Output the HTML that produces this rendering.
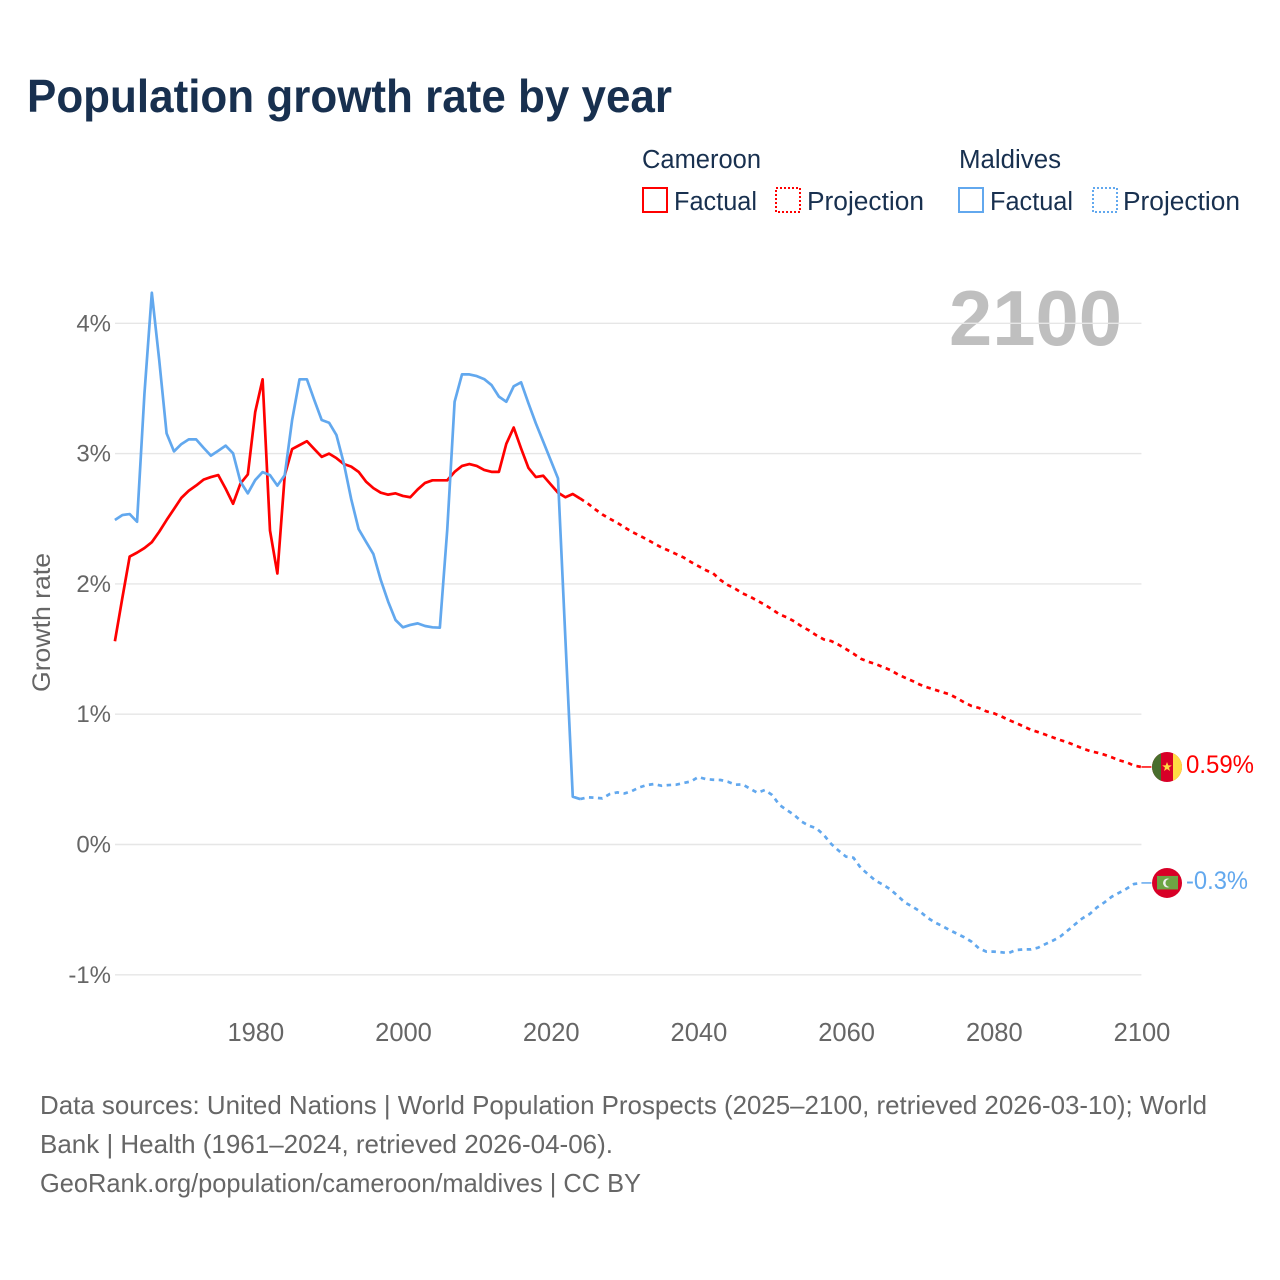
<!DOCTYPE html>
<html lang="en">
<head>
<meta charset="utf-8">
<title>Population growth rate by year</title>
<style>
html,body{margin:0;padding:0;background:#fff}
svg{display:block;font-family:"Liberation Sans",sans-serif}
</style>
</head>
<body>
<svg id="chart" width="1280" height="1280" viewBox="0 0 1280 1280" xmlns="http://www.w3.org/2000/svg">
  <rect width="1280" height="1280" fill="#fff"/>
  <text x="27" y="112" font-size="46" font-weight="700" fill="#18304f" textLength="645" lengthAdjust="spacingAndGlyphs">Population growth rate by year</text>

  <g font-size="25.5" fill="#18304f">
    <text x="642" y="168" textLength="119" lengthAdjust="spacingAndGlyphs">Cameroon</text>
    <text x="959" y="168" textLength="102" lengthAdjust="spacingAndGlyphs">Maldives</text>
    <rect x="643" y="188" width="24" height="24" fill="none" stroke="#ff0000" stroke-width="2"/>
    <text x="674" y="210" textLength="83" lengthAdjust="spacingAndGlyphs">Factual</text>
    <rect x="776" y="188" width="24" height="24" fill="none" stroke="#ff0000" stroke-width="2" stroke-dasharray="2 2"/>
    <text x="807" y="210" textLength="117" lengthAdjust="spacingAndGlyphs">Projection</text>
    <rect x="959" y="188" width="24" height="24" fill="none" stroke="#62a8ee" stroke-width="2"/>
    <text x="990" y="210" textLength="83" lengthAdjust="spacingAndGlyphs">Factual</text>
    <rect x="1093" y="188" width="24" height="24" fill="none" stroke="#62a8ee" stroke-width="2" stroke-dasharray="2 2"/>
    <text x="1123" y="210" textLength="117" lengthAdjust="spacingAndGlyphs">Projection</text>
  </g>

  <text x="949" y="345" font-size="78" font-weight="700" fill="#bfbfbf" textLength="173" lengthAdjust="spacingAndGlyphs">2100</text>

  <g id="grid"></g>
  <g id="yticks" font-size="24" fill="#666" text-anchor="end"></g>
  <g id="xticks" font-size="25.5" fill="#666" text-anchor="middle"></g>
  <text transform="translate(50 692) rotate(-90)" font-size="25" fill="#666" textLength="139" lengthAdjust="spacingAndGlyphs">Growth rate</text>
  <g id="series" fill="none" stroke-width="2.7" stroke-linejoin="round"></g>

  <g id="flag-cameroon">
    <circle r="15" fill="#d80027"/>
    <path d="M-6 -13.75A15 15 0 0 0 -6 13.75Z" fill="#496e2d"/>
    <path d="M6 -13.75A15 15 0 0 1 6 13.75Z" fill="#ffda44"/>
    <polygon points="0,-5 1.3,-1.6 4.8,-1.6 2,0.6 3,4 0,2 -3,4 -2,0.6 -4.8,-1.6 -1.3,-1.6" fill="#ffda44"/>
  </g>
  <g id="flag-maldives">
    <circle r="15" fill="#d80027"/>
    <rect x="-10" y="-7" width="21" height="13.5" fill="#6da544"/>
    <circle cx="0.5" cy="0" r="4.5" fill="#f0f0f0"/>
    <circle cx="2.5" cy="0" r="4" fill="#6da544"/>
  </g>
  <text id="label-cameroon" font-size="25" fill="#ff0000" textLength="68" lengthAdjust="spacingAndGlyphs"></text>
  <text id="label-maldives" font-size="25" fill="#62a8ee" textLength="62" lengthAdjust="spacingAndGlyphs"></text>

  <g font-size="26" fill="#666">
    <text x="40" y="1114" textLength="1167" lengthAdjust="spacingAndGlyphs">Data sources: United Nations | World Population Prospects (2025–2100, retrieved 2026-03-10); World</text>
    <text x="40" y="1153" textLength="573" lengthAdjust="spacingAndGlyphs">Bank | Health (1961–2024, retrieved 2026-04-06).</text>
    <text x="40" y="1192" textLength="601" lengthAdjust="spacingAndGlyphs">GeoRank.org/population/cameroon/maldives | CC BY</text>
  </g>
</svg>
<script>
const firstYear = 1961;
const xTickLabels = [1980, 2000, 2020, 2040, 2060, 2080, 2100];
const yTickLabels = [4, 3, 2, 1, 0, -1];
const cameroonFactual = [1.56,1.89,2.21,2.24,2.275,2.32,2.40,2.49,2.575,2.66,2.715,2.755,2.80,2.82,2.835,2.73,2.615,2.77,2.84,3.32,3.57,2.41,2.08,2.835,3.035,3.065,3.095,3.035,2.975,3.0,2.965,2.92,2.90,2.86,2.785,2.735,2.70,2.685,2.695,2.675,2.665,2.725,2.775,2.795,2.795,2.795,2.86,2.905,2.92,2.905,2.875,2.86,2.86,3.075,3.20,3.04,2.89,2.82,2.83,2.765,2.70,2.665,2.69,2.655];
const cameroonProjection = [2.618,2.574,2.533,2.500,2.470,2.434,2.400,2.372,2.342,2.311,2.280,2.255,2.229,2.203,2.168,2.137,2.106,2.081,2.03,1.991,1.963,1.927,1.902,1.871,1.840,1.804,1.766,1.743,1.712,1.674,1.643,1.605,1.574,1.561,1.533,1.500,1.465,1.426,1.403,1.385,1.362,1.339,1.306,1.280,1.255,1.227,1.206,1.188,1.170,1.153,1.124,1.091,1.063,1.048,1.022,1.007,0.984,0.956,0.933,0.907,0.881,0.863,0.843,0.822,0.802,0.784,0.761,0.738,0.718,0.705,0.689,0.669,0.646,0.631,0.605,0.595];
const maldivesFactual = [2.49,2.528,2.536,2.477,3.46,4.235,3.718,3.155,3.017,3.073,3.109,3.109,3.045,2.984,3.022,3.061,3.002,2.784,2.695,2.797,2.858,2.835,2.754,2.835,3.258,3.570,3.570,3.411,3.258,3.237,3.142,2.925,2.65,2.421,2.324,2.229,2.030,1.864,1.723,1.667,1.685,1.697,1.677,1.667,1.664,2.414,3.398,3.608,3.608,3.595,3.572,3.526,3.437,3.398,3.516,3.547,3.386,3.232,3.092,2.951,2.810,1.58,0.367,0.349];
const maldivesProjection = [0.362,0.359,0.354,0.387,0.400,0.392,0.410,0.438,0.456,0.464,0.451,0.456,0.459,0.472,0.484,0.518,0.502,0.497,0.495,0.482,0.459,0.461,0.428,0.397,0.418,0.380,0.303,0.264,0.226,0.175,0.144,0.124,0.073,0.004,-0.047,-0.093,-0.101,-0.180,-0.229,-0.278,-0.308,-0.344,-0.395,-0.446,-0.477,-0.513,-0.561,-0.597,-0.625,-0.656,-0.684,-0.712,-0.746,-0.797,-0.822,-0.822,-0.827,-0.833,-0.810,-0.805,-0.805,-0.792,-0.764,-0.738,-0.707,-0.661,-0.613,-0.567,-0.533,-0.482,-0.444,-0.400,-0.370,-0.339,-0.303,-0.295];
const endLabelCameroon = "0.59%";
const endLabelMaldives = "-0.3%";

const NS = "http://www.w3.org/2000/svg";
const RED = "#ff0000", BLUE = "#62a8ee";
function xScale(year) { return 114.9 + (year - 1961) * 7.385; }
function yScale(v) { return 844.5 - v * 130.3; }

function make(tag, parent) {
  const el = document.createElementNS(NS, tag);
  parent.appendChild(el);
  return el;
}
function pathFrom(values, startYear, prefixPoint) {
  const pts = values.map(function (v, i) {
    return xScale(startYear + i).toFixed(2) + " " + yScale(v).toFixed(2);
  });
  if (prefixPoint) pts.unshift(prefixPoint);
  return "M" + pts.join("L");
}

const grid = document.getElementById("grid");
const yTicks = document.getElementById("yticks");
yTickLabels.forEach(function (t) {
  const line = make("line", grid);
  
  
  line.setAttribute("x1", 115);
  line.setAttribute("x2", xScale(2100));
  line.setAttribute("y1", yScale(t));
  line.setAttribute("y2", yScale(t));
  line.setAttribute("stroke", "#e6e6e6");
  line.setAttribute("stroke-width", "1.4");
  const label = make("text", yTicks);
  
  
  label.setAttribute("x", 111);
  label.setAttribute("y", yScale(t) + 8);
  label.textContent = t + "%";
});

const xTicks = document.getElementById("xticks");
xTickLabels.forEach(function (t) {
  const label = make("text", xTicks);
  
  
  label.setAttribute("x", xScale(t) + 0.6);
  label.setAttribute("y", 1041);
  label.textContent = t;
});

const series = document.getElementById("series");
const factualEnd = firstYear + cameroonFactual.length - 1;

const cf = make("path", series);


cf.setAttribute("d", pathFrom(cameroonFactual, firstYear));
cf.setAttribute("stroke", RED);

const cp = make("path", series);


cp.setAttribute("d", pathFrom(cameroonProjection, factualEnd + 1, xScale(factualEnd) + " " + yScale(cameroonFactual[cameroonFactual.length - 1])));
cp.setAttribute("stroke", RED);
cp.setAttribute("stroke-dasharray", "4.5 4.5");

const mf = make("path", series);


mf.setAttribute("d", pathFrom(maldivesFactual, firstYear));
mf.setAttribute("stroke", BLUE);

const mp = make("path", series);


mp.setAttribute("d", pathFrom(maldivesProjection, factualEnd + 1, xScale(factualEnd) + " " + yScale(maldivesFactual[maldivesFactual.length - 1])));
mp.setAttribute("stroke", BLUE);
mp.setAttribute("stroke-dasharray", "4.5 4.5");

const lastYear = factualEnd + cameroonProjection.length;
const lastC = yScale(cameroonProjection[cameroonProjection.length - 1]);
const lastM = yScale(maldivesProjection[maldivesProjection.length - 1]);

const cc = make("line", series);


cc.setAttribute("x1", xScale(lastYear));
cc.setAttribute("x2", xScale(lastYear) + 10);
cc.setAttribute("y1", lastC);
cc.setAttribute("y2", lastC);
cc.setAttribute("stroke", RED);
cc.setAttribute("stroke-width", "1.5");

const mc = make("line", series);


mc.setAttribute("x1", xScale(lastYear));
mc.setAttribute("x2", xScale(lastYear) + 10);
mc.setAttribute("y1", lastM);
mc.setAttribute("y2", lastM);
mc.setAttribute("stroke", BLUE);
mc.setAttribute("stroke-width", "1.5");

const flagX = xScale(lastYear) + 25.6;
document.getElementById("flag-cameroon").setAttribute("transform", "translate(" + flagX + " " + lastC + ")");
document.getElementById("flag-maldives").setAttribute("transform", "translate(" + flagX + " " + lastM + ")");

const lc = document.getElementById("label-cameroon");
lc.setAttribute("x", flagX + 19);
lc.setAttribute("y", lastC + 6);
lc.textContent = endLabelCameroon;
const lm = document.getElementById("label-maldives");
lm.setAttribute("x", flagX + 19);
lm.setAttribute("y", lastM + 6);
lm.textContent = endLabelMaldives;
</script>
</body>
</html>
